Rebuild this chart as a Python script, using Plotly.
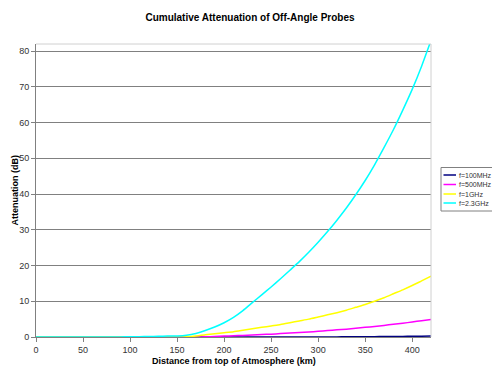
import plotly.graph_objects as go

distance_km = list(range(0, 430, 10))

f100mhz = [0]*31 + [0.02, 0.03, 0.05, 0.06, 0.08, 0.1, 0.12, 0.14, 0.17, 0.19, 0.22, 0.25]
f500mhz = [0]*18 + [0.05, 0.15, 0.25, 0.35, 0.45, 0.55, 0.7, 0.8, 0.95, 1.1, 1.25, 1.4, 1.6,
                    1.8, 2.0, 2.2, 2.45, 2.7, 2.95, 3.25, 3.55, 3.85, 4.2, 4.55, 4.9]
f1ghz = [0]*16 + [0.1, 0.3, 0.6, 0.9, 1.2, 1.5, 1.9, 2.3, 2.7, 3.1, 3.5, 4.0, 4.5, 5.0, 5.6,
                  6.2, 6.8, 7.5, 8.3, 9.1, 10.0, 11.0, 12.1, 13.2, 14.4, 15.7, 17.0]
f2_3ghz = [0]*10 + [0.1, 0.1, 0.15, 0.2, 0.25, 0.3, 0.5, 1.0, 1.8, 2.8, 4.0, 5.5, 7.4, 9.6,
                    11.8, 14.0, 16.3, 18.7, 21.1, 23.7, 26.5, 29.5, 32.7, 36.1, 39.8, 43.8,
                    48.2, 53.0, 58.0, 63.5, 69.3, 75.8, 83.0]

series_names = ["f=100MHz", "f=500MHz", "f=1GHz", "f=2.3GHz"]
series_values = [f100mhz, f500mhz, f1ghz, f2_3ghz]
series_colors = ["#000080", "#FF00FF", "#FFFF00", "#00FFFF"]

x_ticks = [0, 50, 100, 150, 200, 250, 300, 350, 400]
y_ticks = [0, 10, 20, 30, 40, 50, 60, 70, 80]

# the page body adds an 8px offset; size the figure so it fits the window
OFF = 8
W, H = 500 - OFF, 375 - OFF
L, T = 36 - OFF, 44 - OFF
R = W - (431 - OFF)
B = H - (337 - OFF)
PW, PH = W - L - R, H - T - B


def px_x(px):
    return (px - OFF - L) / PW


def px_y(py):
    return (H - B - (py - OFF)) / PH


fig = go.Figure()
for name, vals, color in zip(series_names, series_values, series_colors):
    fig.add_trace(go.Scatter(x=distance_km, y=vals, name=name, mode="lines",
                             line=dict(color=color, width=1.5, shape="spline", smoothing=0.6),
                             showlegend=False))

font = "Liberation Sans, Arial, sans-serif"
fig.update_layout(
    width=W, height=H,
    margin=dict(l=L, r=R, t=T, b=B, autoexpand=False),
    paper_bgcolor="white", plot_bgcolor="white",
    font=dict(family=font, size=9, color="#333333"),
    title=dict(text="<b>Cumulative Attenuation of Off-Angle Probes</b>",
               x=(250 - OFF) / W, xanchor="center",
               y=1 - (17 - OFF) / H, yanchor="middle",
               font=dict(size=10, color="black", family=font)),
    showlegend=False,
    xaxis=dict(range=[0, 420], tickvals=x_ticks, showgrid=False, zeroline=False,
               showline=True, linecolor="#808080", linewidth=1, mirror=False,
               ticks="outside", ticklen=4, tickcolor="#808080"),
    yaxis=dict(range=[0, 82], tickvals=y_ticks, showgrid=True, gridcolor="#808080",
               gridwidth=1, zeroline=False, showline=True, linecolor="#808080",
               linewidth=1, ticks="outside", ticklen=4, tickcolor="#808080"),
)
# axis titles
fig.add_annotation(text="<b>Distance from top of Atmosphere (km)</b>", xref="paper", yref="paper",
                   x=0.5, y=px_y(361), xanchor="center", yanchor="middle", showarrow=False,
                   font=dict(size=9, color="black"))
fig.add_annotation(text="<b>Attenuation (dB)</b>", xref="paper", yref="paper",
                   x=px_x(14), y=0.5, xanchor="center", yanchor="middle", showarrow=False,
                   textangle=-90, font=dict(size=9, color="black"))
# light frame on top and right
fig.add_shape(type="line", xref="paper", yref="paper", x0=0, x1=1, y0=1, y1=1,
              line=dict(color="#D0D0D0", width=1))
fig.add_shape(type="line", xref="paper", yref="paper", x0=1, x1=1, y0=0, y1=1,
              line=dict(color="#D0D0D0", width=1))

# legend box (drawn manually for Excel-like compact layout)
fig.add_shape(type="rect", xref="paper", yref="paper",
              x0=px_x(441), x1=px_x(495), y0=px_y(211), y1=px_y(167.5),
              line=dict(color="#808080", width=1), fillcolor="white")
legend_rows = [175, 184.5, 194, 203]
for name, color, ry in zip(series_names, series_colors, legend_rows):
    fig.add_shape(type="line", xref="paper", yref="paper",
                  x0=px_x(443.5), x1=px_x(456), y0=px_y(ry), y1=px_y(ry),
                  line=dict(color=color, width=1.5))
    fig.add_annotation(text=name, xref="paper", yref="paper", x=px_x(457), y=px_y(ry),
                       xanchor="left", yanchor="middle", showarrow=False,
                       font=dict(size=7, color="#333333"))

fig.write_html("out.html")
